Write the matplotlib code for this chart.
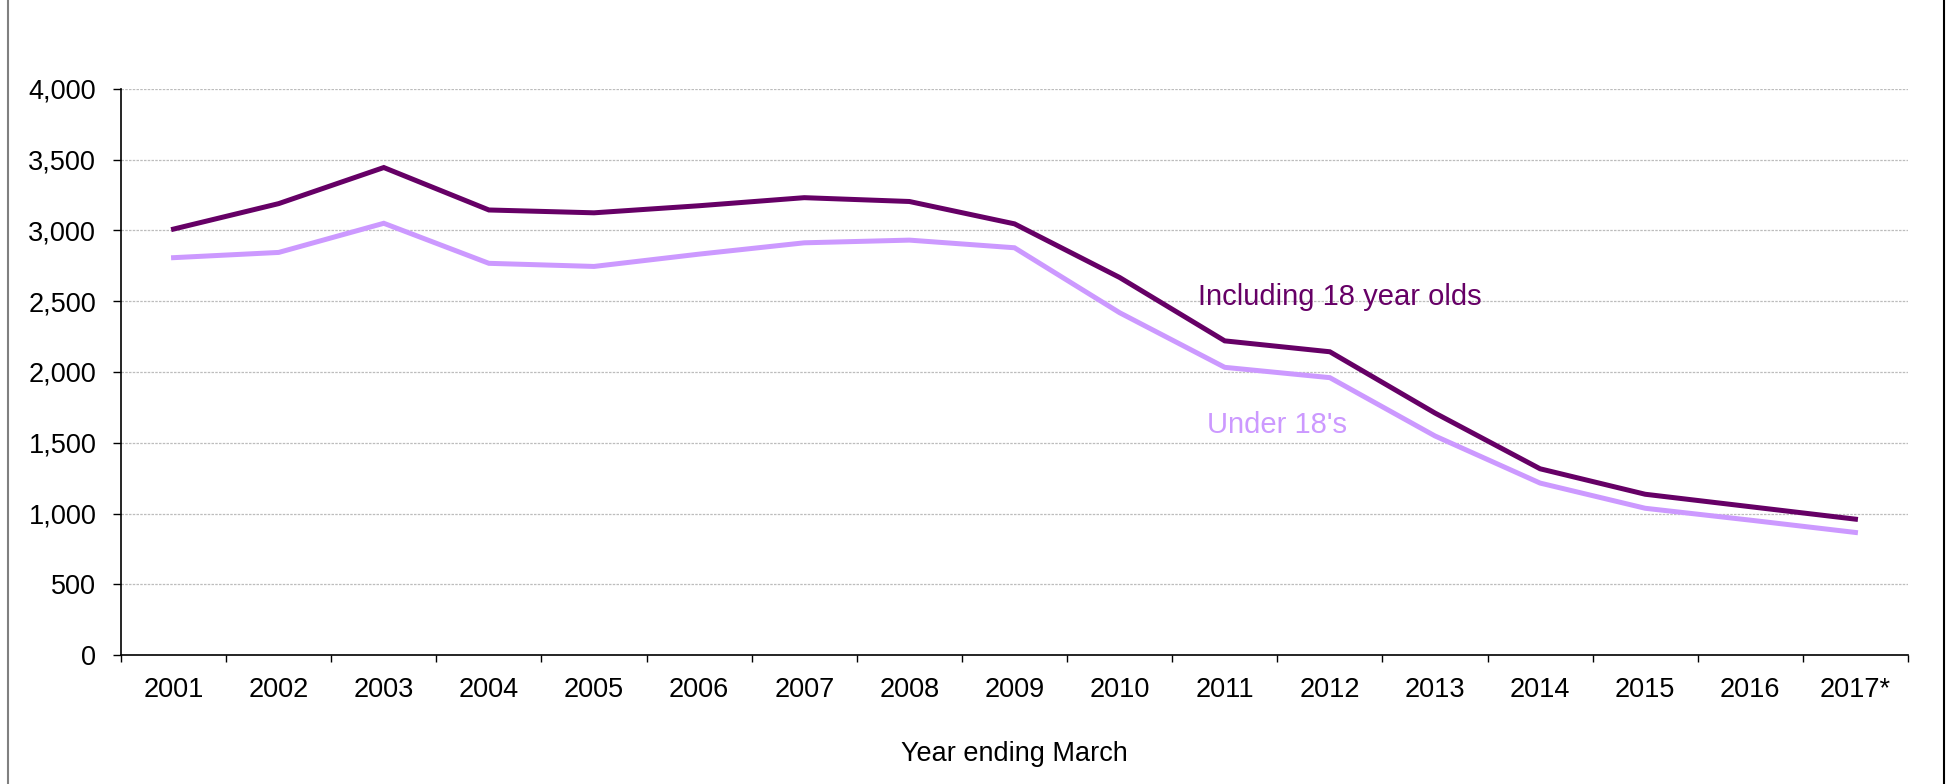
import matplotlib
matplotlib.use("Agg")
import matplotlib.pyplot as plt
from matplotlib.ticker import FuncFormatter, FixedLocator
from matplotlib.lines import Line2D

years = ["2001", "2002", "2003", "2004", "2005", "2006", "2007", "2008", "2009",
         "2010", "2011", "2012", "2013", "2014", "2015", "2016", "2017*"]
including_18 = [3010, 3190, 3445, 3145, 3125, 3175, 3232, 3205, 3047,
                2668, 2220, 2143, 1710, 1316, 1136, 1048, 960]
under_18 = [2808, 2845, 3051, 2768, 2746, 2833, 2913, 2932, 2878,
            2419, 2033, 1960, 1548, 1215, 1037, 953, 866]
y_ticks = [0, 500, 1000, 1500, 2000, 2500, 3000, 3500, 4000]

DARK = "#660066"
LIGHT = "#CC99FF"

plt.rcParams["font.family"] = ["Liberation Sans", "DejaVu Sans"]

fig = plt.figure(figsize=(19.49, 7.84), dpi=100)
ax = fig.add_axes([121 / 1949, 1 - 655 / 784, (1908 - 121) / 1949, (655 - 89) / 784])

x = list(range(len(years)))
ax.plot(x, under_18, color=LIGHT, lw=3.6, solid_joinstyle="miter", zorder=3)
ax.plot(x, including_18, color=DARK, lw=3.6, solid_joinstyle="miter", zorder=4)

ax.set_xlim(-0.5, len(years) - 0.5)
ax.set_ylim(0, 4000)

# category labels centred in each bin, tick marks on the bin edges
ax.set_xticks(x)
ax.set_xticklabels(years)
ax.xaxis.set_minor_locator(FixedLocator([i - 0.5 for i in range(len(years) + 1)]))
ax.tick_params(axis="x", which="major", length=0, pad=16, labelsize=19.5)
ax.tick_params(axis="x", which="minor", length=5, width=1.0, direction="out", color="black")

ax.set_yticks(y_ticks)
ax.yaxis.set_major_formatter(FuncFormatter(lambda v, p: f"{int(v):,}"))
ax.tick_params(axis="y", length=5.8, width=1.0, direction="out", pad=12, labelsize=19.5)

ax.grid(axis="y", color="#bdbdbd", linestyle=(0, (2, 1)), linewidth=0.9, zorder=0)
ax.set_axisbelow(True)

for s in ("top", "right"):
    ax.spines[s].set_visible(False)
for s in ("left", "bottom"):
    ax.spines[s].set_color("black")
    ax.spines[s].set_linewidth(1.2)

ax.set_xlabel("Year ending March", fontsize=19.5, labelpad=27)

ax.text(9.75, 2473, "Including 18 year olds", color=DARK, fontsize=21,
        ha="left", va="baseline", zorder=5)
ax.text(9.83, 1569, "Under 18's", color=LIGHT, fontsize=21,
        ha="left", va="baseline", zorder=5)

# frame edges at the sides of the figure
fig.add_artist(Line2D([8.5 / 1949, 8.5 / 1949], [0, 1], transform=fig.transFigure,
                      color="#808080", lw=1.5))
fig.add_artist(Line2D([1944 / 1949, 1944 / 1949], [0, 1], transform=fig.transFigure,
                      color="black", lw=1.5))

fig.savefig("out.png", dpi=100)
